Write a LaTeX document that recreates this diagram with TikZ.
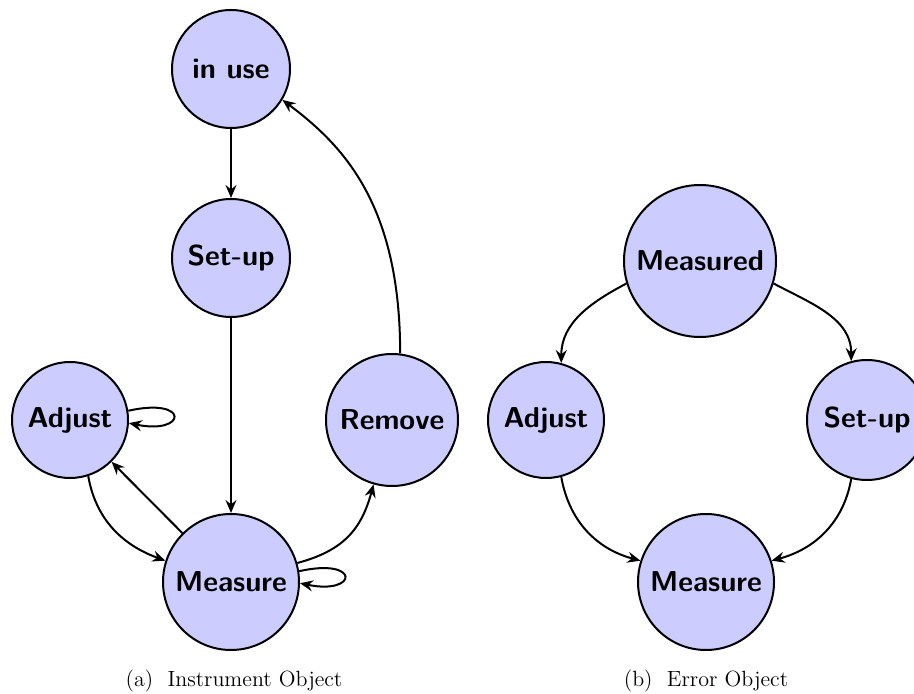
\documentclass[tikz,border=0pt]{standalone}
\usetikzlibrary{arrows.meta}
\begin{document}
\begin{tikzpicture}[
  x=0.5pt, y=-0.5pt,
  state/.style={circle, draw=black, line width=1pt, fill=blue!20, inner sep=0pt,
    font=\sffamily\bfseries\Large},
  arr/.style={line width=1pt, -{Stealth[length=6.5pt,width=5.5pt,inset=2.2pt]}},
  captext/.style={font=\fontsize{11}{13}\selectfont}
]
\useasboundingbox (0,0) rectangle (914,694);

% (a) instrument object
\node[state, minimum size=59pt] (inuse)  at (231,69)  {in use};
\node[state, minimum size=59pt] (setupA) at (231,258) {Set-up};
\node[state, minimum size=58pt] (adjA)   at (70,420)  {Adjust};
\node[state, minimum size=66pt] (remove) at (392,420) {Remove};
\node[state, minimum size=68pt] (measA)  at (231,582) {Measure};

\draw[arr] (inuse) -- (setupA);
\draw[arr] (setupA) -- (measA);
\draw[arr] (measA) -- (adjA);
\draw[arr] (adjA.-72) to[out=-80, in=160] (measA.162);
\draw[arr] (measA.16) to[out=15, in=-105, looseness=1.1] (remove.-106);
\draw[arr] (remove.83) .. controls +(0,-150) and +(60,45) .. (inuse.-31);
\draw[arr] (adjA.9) .. controls +(62,-14) and +(58,12) .. (adjA.-3);
\draw[arr] (measA.9) .. controls +(62,-14) and +(58,12) .. (measA.-1);

\node[captext] (capA) at (234,681) {(a)\ \ Instrument Object};

% (b) error object
\node[state, minimum size=76pt] (measured) at (700,261) {Measured};
\node[state, minimum size=58pt] (adjB)     at (546,420) {Adjust};
\node[state, minimum size=60pt] (setupB)   at (867,420) {Set-up};
\node[state, minimum size=68pt] (measB)    at (706,582) {Measure};

\draw[arr] (measured.197) to[out=208, in=90] (adjB.75);
\draw[arr] (measured.-17) to[out=-28, in=90] (setupB.105);
\draw[arr] (adjB.-75) to[out=-80, in=165] (measB.162);
\draw[arr] (setupB.-105) to[out=-100, in=15] (measB.18);

\node[captext] (capB) at (706,681) {(b)\ \ Error Object};
\end{tikzpicture}
\end{document}
